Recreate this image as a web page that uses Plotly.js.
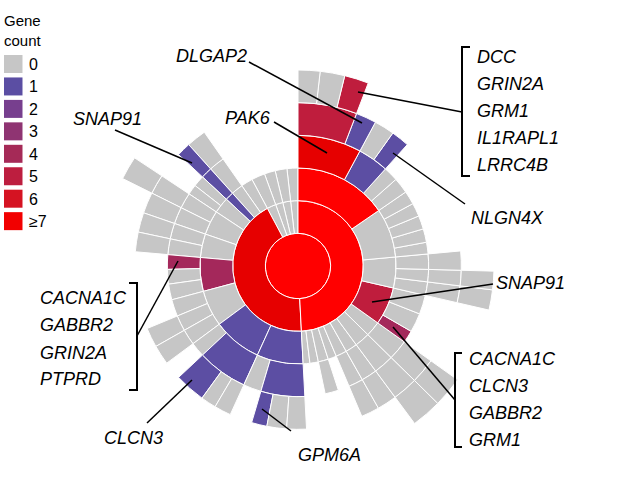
<!DOCTYPE html>
<html>
<head>
<meta charset="utf-8">
<script src="https://cdn.plot.ly/plotly-3.0.1.min.js"></script>
<style>html,body{margin:0;padding:0;background:#fff;}#chart{width:617px;height:482px;}</style>
</head>
<body>
<div id="chart"></div>
<script>
// ---------------- DATA ----------------
// Sunburst nodes, listed ring by ring; siblings in clockwise order from 12 o'clock.
const nodeIds = [
  'root',
  'A','B','T1','T2','T3','T4',
  'A1','A2','A3','A4','A5','A6','A7','A8','A9','A10','A11','A12',
  'B1','B2','B3','B4','B5','B6','B7','B8','B9','B10','T1a','T2a','T3a','T4a',
  'PAK6','A1b','A1c','A1d','A2a','A2b','A2c','A2d','A2e','A3a','A3b','A3c','A4a','A4b','A4c',
  'A5a','A6a','A7a','A8a','A10a','B1a','B1b','B2a','B2b','B3a','B3b','B3c','B4a','B4b','B4c',
  'B5a','B5b','B6a','B6b','B7a','B7b','B8a','B9a',
  'PAK6x','DLGAP2','A1b5','NLGN4X','A3a5','A3b5','A3c5','A5a5','A6a5','A7a5','A8a5',
  'B1a5a','B1a5b','GPM6A','B2a5a','B2a5b','CLCN3','B3a5','B3b5','B5a5','B5b5','B6a5','B6b5','SNAP91L','B9a5',
  'PAK6x6a','PAK6x6b','PAK6x6c','A3b6','A3c6','A5a6','A6a6','B6b6'
];
const nodeParents = [
  '',
  'root','root','root','root','root','root',
  'A','A','A','A','A','A','A','A','A','A','A','A',
  'B','B','B','B','B','B','B','B','B','B','T1','T2','T3','T4',
  'A1','A1','A1','A1','A2','A2','A2','A2','A2','A3','A3','A3','A4','A4','A4',
  'A5','A6','A7','A8','A10','B1','B1','B2','B2','B3','B3','B3','B4','B4','B4',
  'B5','B5','B6','B6','B7','B7','B8','B9',
  'PAK6','PAK6','A1b','A1b','A3a','A3b','A3c','A5a','A6a','A7a','A8a',
  'B1a','B1a','B1a','B2a','B2a','B2a','B3a','B3b','B5a','B5b','B6a','B6b','B8a','B9a',
  'PAK6x','PAK6x','PAK6x','A3b5','A3c5','A5a5','A6a5','B6b5'
];
// angular size (degrees) of each leaf; inner nodes take the sum of their children
const nodeSpans = [
  0,
  0,0,0,0,0,0,
  0,0,0,0,0,0,0,0,5,0,5,4,
  0,0,0,0,0,0,0,0,0,7,8,6.5,7,6.5,
  0,0,6.5,7,6,6,6,6,5.2,0,0,0,8.5,8.5,5.5,
  0,0,0,0,6,0,8,0,6.5,0,0,7.5,7,6.5,6.5,
  0,0,0,0,4.5,5,0,0,
  0,7.3,7.2,6.5,6.8,0,0,0,0,7,6.5,
  7,7,5.5,6,5.5,11,7,7,7,7,7.5,0,5,7,
  6.5,7.3,7.2,5.5,6,9,9,7
];
// gene count of each node
const geneCounts = [
  30,
  20,10,0,0,0,0,
  15,0,0,5,0,0,0,0,0,0,0,0,
  1,1,0,4,0,0,0,1,0,0,0,0,0,0,
  7,1,0,0,0,0,0,0,0,0,0,0,0,0,4,
  0,0,0,0,0,1,0,1,0,0,0,0,0,0,4,
  0,0,0,0,0,0,1,0,
  5,1,0,1,0,0,0,0,0,0,0,
  0,0,1,0,0,1,0,0,0,0,0,0,1,0,
  0,0,5,0,0,0,0,0
];
// legend
const legendTitle = 'Gene<br>count';
const legendLabels = ['0','1','2','3','4','5','6','\u22657'];
// gene labels
const labelDLGAP2 = 'DLGAP2';
const labelPAK6 = 'PAK6';
const labelSNAP91 = 'SNAP91';
const labelNLGN4X = 'NLGN4X';
const labelCLCN3 = 'CLCN3';
const labelGPM6A = 'GPM6A';
const groupTopRight = ['DCC','GRIN2A','GRM1','IL1RAPL1','LRRC4B'];
const groupBottomRight = ['CACNA1C','CLCN3','GABBR2','GRM1'];
const groupLeft = ['CACNA1C','GABBR2','GRIN2A','PTPRD'];

// ---------------- STYLE ----------------
const W = 617, H = 482;
const px = x => x / W;
const py = y => 1 - y / H;
const legendColors = ['#c6c6c6','#5b4ea3','#773f8e','#8f3472','#a52a57','#bd1e3f','#d51322','#f20000'];
function cellColor(n) {
  if (n >= 15) return '#ff0000';
  if (n >= 7) return '#e60000';
  if (n === 0) return '#c6c6c6';
  if (n === 1) return '#5c4ea3';
  if (n === 4) return '#a4285b';
  if (n === 5) return '#bf1d3d';
  return legendColors[n];
}
const rev = a => a.slice().reverse();   // plotly lays siblings counter-clockwise

const trace = {
  type: 'sunburst',
  ids: rev(nodeIds),
  labels: rev(nodeIds),
  parents: rev(nodeParents),
  values: rev(nodeSpans),
  branchvalues: 'remainder',
  sort: false,
  rotation: 90,
  marker: { colors: rev(geneCounts.map(cellColor)), line: { color: '#ffffff', width: 1 } },
  leaf: { opacity: 1 },
  textinfo: 'none',
  hoverinfo: 'skip',
  domain: { x: [px(102), px(494)], y: [py(462), py(70)] }
};

const txtFont = { family: 'Liberation Sans, Arial, sans-serif', size: 18, color: '#000', style: 'italic' };
const annotations = [];
const shapes = [];
function label(text, x, y) {
  annotations.push({ text: text, x: px(x), y: py(y), xref: 'paper', yref: 'paper',
    xanchor: 'left', yanchor: 'middle', showarrow: false, font: txtFont });
}
function line(x0, y0, x1, y1) {
  shapes.push({ type: 'line', xref: 'paper', yref: 'paper', x0: px(x0), y0: py(y0), x1: px(x1), y1: py(y1),
    line: { color: '#000', width: 1.5 } });
}
function bracket(x, y0, y1, tickDx) {
  shapes.push({ type: 'path', xref: 'paper', yref: 'paper',
    path: 'M' + px(x + tickDx) + ',' + py(y0) + ' L' + px(x) + ',' + py(y0) + ' L' + px(x) + ',' + py(y1) + ' L' + px(x + tickDx) + ',' + py(y1),
    line: { color: '#000', width: 2 } });
}

// single labels
label(labelDLGAP2, 174, 56);  line(249, 62, 362, 123);
label(labelPAK6, 223, 118);   line(274, 122, 327, 153);
label(labelSNAP91, 71, 119);  line(115, 130, 192, 163);
label(labelNLGN4X, 469, 218); line(465, 204, 393, 153);
label(labelSNAP91, 494, 283); line(493, 284, 372, 302);
label(labelCLCN3, 102, 438);  line(147, 423, 192, 380);
label(labelGPM6A, 296, 455);  line(291, 431, 262, 409);
// groups
const trY = [57, 84, 111, 138, 165];
groupTopRight.forEach((g, i) => label(g, 475, trY[i]));
bracket(462, 47, 176, 8); line(358, 92, 462, 112);
const brY = [359, 386, 413, 440];
groupBottomRight.forEach((g, i) => label(g, 467, brY[i]));
bracket(455, 353, 447, 7); line(393, 327, 455, 400);
const lY = [298, 325, 353, 379];
groupLeft.forEach((g, i) => label(g, 38, lY[i]));
bracket(137, 283, 390, -8); line(137, 336, 178, 261);

// legend
annotations.push({ text: legendTitle, x: px(2), y: py(10), xref: 'paper', yref: 'paper', xanchor: 'left', yanchor: 'top',
  align: 'left', showarrow: false, font: { family: 'Liberation Sans, Arial, sans-serif', size: 15, color: '#000' } });
legendLabels.forEach((t, i) => {
  const top = 55 + i * 22.45;
  shapes.push({ type: 'rect', xref: 'paper', yref: 'paper', x0: px(4), x1: px(22.5), y0: py(top), y1: py(top + 18),
    fillcolor: legendColors[i], line: { width: 0 } });
  annotations.push({ text: t, x: px(27), y: py(top + 9.5), xref: 'paper', yref: 'paper', xanchor: 'left', yanchor: 'middle',
    showarrow: false, font: { family: 'Liberation Sans, Arial, sans-serif', size: 16, color: '#000' } });
});

const layout = {
  width: W, height: H,
  margin: { l: 0, r: 0, t: 0, b: 0 },
  paper_bgcolor: '#ffffff',
  showlegend: false,
  annotations: annotations,
  shapes: shapes
};
Plotly.newPlot('chart', [trace], layout, { displayModeBar: false, staticPlot: true });
</script>
</body>
</html>
